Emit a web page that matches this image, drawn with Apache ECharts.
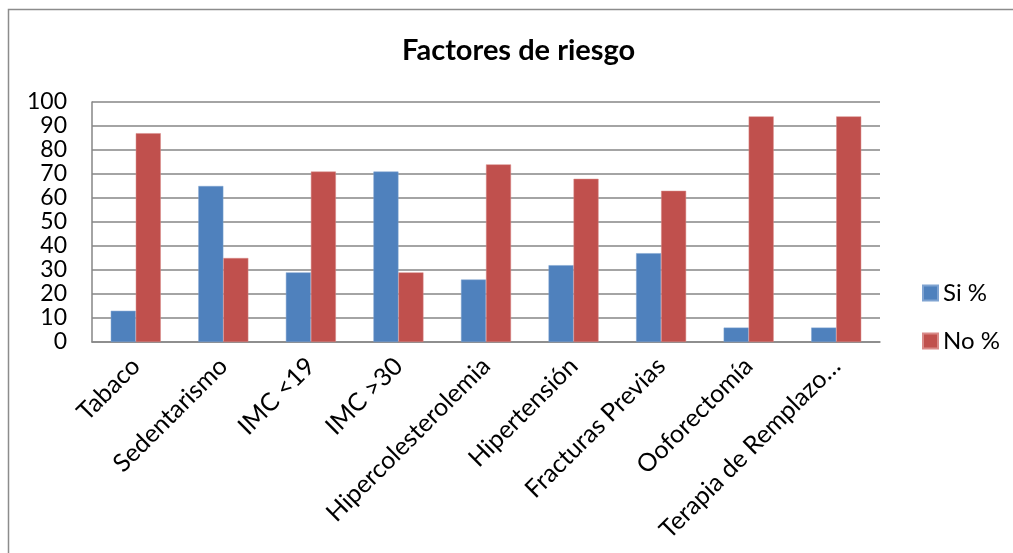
<!DOCTYPE html>
<html>
<head>
<meta charset="utf-8">
<script src="https://cdn.jsdelivr.net/npm/echarts@6/dist/echarts.min.js"></script>
<style>
  html, body { margin: 0; padding: 0; background: #fff; }
  #main { width: 1013px; height: 553px; }
</style>
</head>
<body>
<div id="main"></div>
<script>
var chart = echarts.init(document.getElementById('main'));

// categorias del eje x
var factores = ['Tabaco', 'Sedentarismo', 'IMC <19', 'IMC >30', 'Hipercolesterolemia',
  'Hipertensión', 'Fracturas Previas', 'Ooforectomía', 'Terapia de Remplazo Hormonal'];
// porcentajes por serie
var siPct = [13, 65, 29, 71, 26, 32, 37, 6, 6];
var noPct = [87, 35, 71, 29, 74, 68, 63, 94, 94];
var nombresSeries = ['Si %', 'No %'];

var fuente = 'Lato, "Open Sans", sans-serif';

var option = {
  animation: false,
  backgroundColor: '#fff',
  textStyle: { fontFamily: fuente },
  title: {
    text: 'Factores de riesgo',
    left: 397,
    top: 31,
    textStyle: { fontSize: 29, fontWeight: 'bold', color: '#000', fontFamily: fuente }
  },
  graphic: [
    {
      // marco del grafico (solo se ven los bordes izquierdo y superior)
      type: 'rect',
      shape: { x: 8.5, y: 9.5, width: 1200, height: 700 },
      style: { fill: 'none', stroke: '#8c8c8c', lineWidth: 1.5 },
      silent: true
    }
  ],
  legend: {
    orient: 'vertical',
    left: 917,
    top: 276,
    icon: 'rect',
    itemWidth: 15,
    itemHeight: 15,
    itemGap: 24,
    data: nombresSeries,
    textStyle: { fontSize: 24, color: '#000', fontFamily: fuente }
  },
  grid: {
    left: 92,
    right: 133,
    top: 102,
    bottom: 211,
    containLabel: false
  },
  xAxis: {
    type: 'category',
    data: factores,
    axisLine: { lineStyle: { color: '#868686', width: 1.5 } },
    axisTick: { show: false },
    axisLabel: {
      rotate: 45,
      interval: 0,
      margin: 20,
      fontSize: 25,
      color: '#000',
      fontFamily: fuente,
      formatter: function (v) {
        return v.length > 20 ? v.slice(0, 19) + '…' : v;
      }
    }
  },
  yAxis: {
    type: 'value',
    min: 0,
    max: 100,
    interval: 10,
    axisLine: { show: true, lineStyle: { color: '#868686', width: 1.5 } },
    axisTick: { show: false },
    splitLine: { lineStyle: { color: '#868686', width: 1.5 } },
    axisLabel: { fontSize: 23, color: '#000', margin: 25, fontFamily: fuente }
  },
  series: [
    {
      name: nombresSeries[0],
      type: 'bar',
      data: siPct,
      barWidth: 25,
      barGap: '0%',
      itemStyle: { color: '#4f81bd', borderColor: '#7fa3d1', borderWidth: 0.5 }
    },
    {
      name: nombresSeries[1],
      type: 'bar',
      data: noPct,
      barWidth: 25,
      barGap: '0%',
      itemStyle: { color: '#c0504d', borderColor: '#d98a88', borderWidth: 0.5 }
    }
  ]
};

chart.setOption(option);
</script>
</body>
</html>
